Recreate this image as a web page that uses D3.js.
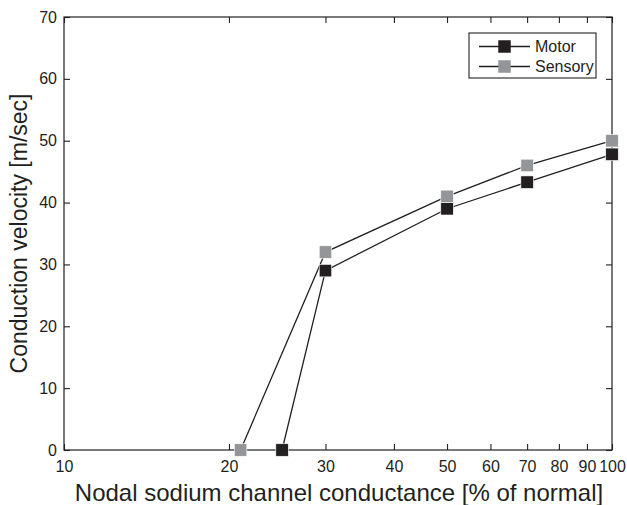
<!DOCTYPE html>
<html>
<head>
<meta charset="utf-8">
<script src="https://cdn.jsdelivr.net/npm/d3@7"></script>
<style>
  html, body { margin: 0; padding: 0; background: #fff; }
  svg { display: block; font-family: "Liberation Sans", Arial, sans-serif; }
</style>
</head>
<body>
<svg id="chart" width="627" height="505"></svg>
<script>
// Conductance (% of normal) vs conduction velocity (m/sec)
const motorX = [25, 30, 50, 70, 100];
const motorY = [0, 29, 39, 43.3, 47.8];
const sensoryX = [21, 30, 50, 70, 100];
const sensoryY = [0, 32, 41, 46, 50];
const xTicks = [10, 20, 30, 40, 50, 60, 70, 80, 90, 100];
const yTicks = [0, 10, 20, 30, 40, 50, 60, 70];
const seriesNames = ["Motor", "Sensory"];
const seriesColors = ["#231f20", "#939598"];

const svg = d3.select("#chart");
const m = { left: 64, top: 17, right: 612, bottom: 450 };
const ink = "#231f20";

const x = d3.scaleLog().domain([10, 100]).range([m.left, m.right]);
const y = d3.scaleLinear().domain([0, 70]).range([m.bottom, m.top]);

const tickLen = 6;

// Frame
svg.append("rect")
  .attr("x", m.left).attr("y", m.top)
  .attr("width", m.right - m.left).attr("height", m.bottom - m.top)
  .attr("fill", "none").attr("stroke", ink).attr("stroke-width", 1.2);

// Axes with inward ticks
const xAxisB = d3.axisBottom(x).tickValues(xTicks).tickFormat(d3.format("d"))
  .tickSizeInner(-tickLen).tickSizeOuter(0).tickPadding(11);
const xAxisT = d3.axisTop(x).tickValues(xTicks).tickFormat("")
  .tickSizeInner(-tickLen).tickSizeOuter(0);
const yAxisL = d3.axisLeft(y).tickValues(yTicks).tickFormat(d3.format("d"))
  .tickSizeInner(-tickLen).tickSizeOuter(0).tickPadding(7);
const yAxisR = d3.axisRight(y).tickValues(yTicks).tickFormat("")
  .tickSizeInner(-tickLen).tickSizeOuter(0);

function style(g) {
  g.select(".domain").remove();
  g.selectAll(".tick line").attr("stroke", ink).attr("stroke-width", 1.1);
  g.selectAll(".tick text").attr("fill", ink).attr("font-size", 16)
    .attr("font-family", "Liberation Sans, Arial, sans-serif");
}

svg.append("g").attr("transform", `translate(0,${m.bottom})`).call(xAxisB).call(style);
svg.append("g").attr("transform", `translate(0,${m.top})`).call(xAxisT).call(style);
svg.append("g").attr("transform", `translate(${m.left},0)`).call(yAxisL).call(style);
svg.append("g").attr("transform", `translate(${m.right},0)`).call(yAxisR).call(style);

// Axis titles
svg.append("text")
  .attr("x", 339).attr("y", 501)
  .attr("text-anchor", "middle").attr("font-size", 24).attr("fill", ink)
  .text("Nodal sodium channel conductance [% of normal]");
svg.append("text")
  .attr("transform", `translate(27,${(m.top + m.bottom) / 2}) rotate(-90)`)
  .attr("text-anchor", "middle").attr("font-size", 23).attr("fill", ink)
  .text("Conduction velocity [m/sec]");

// Series
const series = [
  { name: seriesNames[0], xs: motorX, ys: motorY, color: seriesColors[0] },
  { name: seriesNames[1], xs: sensoryX, ys: sensoryY, color: seriesColors[1] }
];
const line = d3.line().x(d => x(d[0])).y(d => y(d[1]));
const ms = 12.5;

series.forEach(s => {
  const pts = s.xs.map((v, i) => [v, s.ys[i]]);
  svg.append("path").datum(pts)
    .attr("d", line).attr("fill", "none")
    .attr("stroke", ink).attr("stroke-width", 1.3);
});
series.forEach(s => {
  const pts = s.xs.map((v, i) => [v, s.ys[i]]);
  svg.append("g").selectAll("rect").data(pts).join("rect")
    .attr("x", d => x(d[0]) - ms / 2).attr("y", d => y(d[1]) - ms / 2)
    .attr("width", ms).attr("height", ms)
    .attr("fill", s.color).attr("stroke", "#fff").attr("stroke-width", 0.6);
});

// Legend
const lg = svg.append("g").attr("transform", "translate(469,33)");
lg.append("rect").attr("width", 127).attr("height", 45)
  .attr("fill", "#fff").attr("stroke", ink).attr("stroke-width", 1.1);
series.forEach((s, i) => {
  const cy = 13.5 + i * 20;
  lg.append("line").attr("x1", 10).attr("x2", 61).attr("y1", cy).attr("y2", cy)
    .attr("stroke", ink).attr("stroke-width", 1.3);
  lg.append("rect").attr("x", 35.5 - ms / 2).attr("y", cy - ms / 2)
    .attr("width", ms).attr("height", ms).attr("fill", s.color);
  lg.append("text").attr("x", 66).attr("y", cy + 5.5)
    .attr("font-size", 16).attr("fill", ink).text(s.name);
});
</script>
</body>
</html>
